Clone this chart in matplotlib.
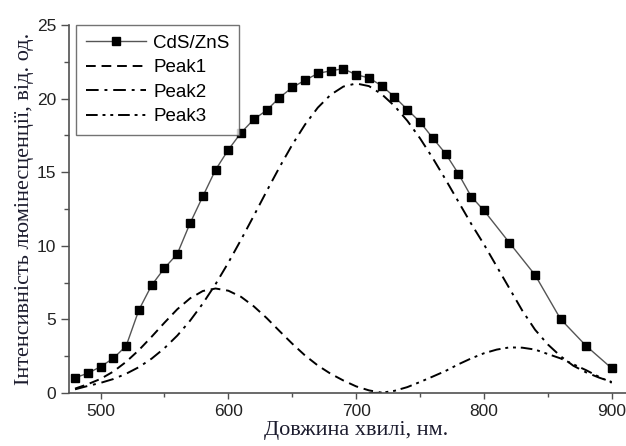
import matplotlib
matplotlib.use("Agg")
import matplotlib.pyplot as plt
from matplotlib.ticker import MultipleLocator
import numpy as np

# measured spectrum (markers)
wl_meas = [480, 490, 500, 510, 520, 530, 540, 550, 560, 570, 580, 590, 600,
           610, 620, 630, 640, 650, 660, 670, 680, 690, 700, 710, 720, 730,
           740, 750, 760, 770, 780, 790, 800, 820, 840, 860, 880, 900]
cds_zns = [1.04, 1.34, 1.79, 2.36, 3.2, 5.65, 7.33, 8.49, 9.45, 11.53, 13.36,
           15.17, 16.53, 17.69, 18.6, 19.21, 20.07, 20.76, 21.25, 21.71, 21.89,
           22.03, 21.62, 21.41, 20.87, 20.12, 19.26, 18.41, 17.32, 16.26, 14.9,
           13.35, 12.4, 10.2, 8.02, 5.02, 3.2, 1.68]

# fitted components
wl_p1 = [480, 490, 500, 510, 520, 530, 540, 550, 560, 570, 580, 590, 600,
         610, 620, 630, 640, 650, 660, 670, 680, 690, 700, 710, 720]
peak1 = [0.3, 0.6, 0.96, 1.46, 2.12, 2.92, 3.83, 4.78, 5.69, 6.43, 6.93, 7.1,
         6.95, 6.53, 5.88, 5.09, 4.21, 3.35, 2.55, 1.87, 1.31, 0.85, 0.45,
         0.18, 0.02]

wl_p2 = [480, 490, 500, 510, 520, 530, 540, 550, 560, 570, 580, 590, 600,
         610, 620, 630, 640, 650, 660, 670, 680, 690, 700, 710, 720, 730,
         740, 750, 760, 770, 780, 790, 800, 810, 820, 830, 840, 850, 860,
         870, 880, 890, 900]
peak2 = [0.25, 0.48, 0.69, 0.95, 1.31, 1.76, 2.34, 3.05, 3.9, 4.91, 6.08,
         7.4, 8.86, 10.43, 12.06, 13.72, 15.34, 16.87, 18.24, 19.39, 20.26,
         20.82, 21.03, 20.85, 20.3, 19.5, 18.5, 17.3, 15.95, 14.5, 13.0,
         11.5, 10.1, 8.6, 7.1, 5.6, 4.3, 3.3, 2.5, 1.85, 1.4, 1.05, 0.75]

wl_p3 = [710, 720, 730, 740, 750, 760, 770, 780, 790, 800, 810, 820, 830,
         840, 850, 860, 870, 880, 890, 900]
peak3 = [0.0, 0.02, 0.15, 0.4, 0.75, 1.12, 1.5, 1.95, 2.35, 2.7, 2.95, 3.1,
         3.08, 2.95, 2.65, 2.35, 1.95, 1.55, 1.1, 0.7]

axis_grey = "#505050"

fig = plt.figure(figsize=(6.26, 4.46), dpi=100)
ax = fig.add_axes([0.1107, 0.1188, 0.9165, 0.8251])

ax.plot(wl_meas, cds_zns, color="#555555", lw=1.0, marker="s", ms=6.0,
        mfc="black", mec="black", label="CdS/ZnS")
ax.plot(wl_p1, peak1, color="black", lw=1.4, dashes=(5, 3), label="Peak1")
ax.plot(wl_p2, peak2, color="black", lw=1.4, dashes=(6.5, 3, 1.5, 3),
        label="Peak2")
ax.plot(wl_p3, peak3, color="black", lw=1.4,
        dashes=(6, 2.5, 1.5, 2.5, 1.5, 2.5), label="Peak3")

ax.set_xlim(475.5, 924.5)
ax.set_ylim(0, 25)
ax.xaxis.set_major_locator(MultipleLocator(100))
ax.xaxis.set_minor_locator(MultipleLocator(50))
ax.yaxis.set_major_locator(MultipleLocator(5))
ax.yaxis.set_minor_locator(MultipleLocator(2.5))

for side in ["top", "right"]:
    ax.spines[side].set_visible(False)
for side in ["left", "bottom"]:
    ax.spines[side].set_color(axis_grey)
    ax.spines[side].set_linewidth(1.2)

ax.tick_params(axis="both", which="both", direction="out", color=axis_grey,
               width=1.0, labelsize=12.5, labelcolor="#222222",
               labelfontfamily="Liberation Sans")
ax.tick_params(axis="y", which="major", length=6)
ax.tick_params(axis="y", which="minor", length=3.5)
ax.tick_params(axis="x", which="major", length=4.5)
ax.tick_params(axis="x", which="minor", length=3)

ax.set_xlabel("Довжина хвилі, нм.", family="Liberation Serif", fontsize=16,
              color="#1c1c2e", labelpad=1)
ax.set_ylabel("Інтенсивність люмінесценції, від. од.",
              family="Liberation Serif", fontsize=16, color="#1c1c2e",
              labelpad=2)

leg = ax.legend(loc="upper left", bbox_to_anchor=(0.012, 1.0),
                prop={"family": "Liberation Sans", "size": 13.5},
                frameon=True, fancybox=False, handlelength=3.2,
                handletextpad=0.4, borderpad=0.5, labelspacing=0.4,
                borderaxespad=0.0)
leg.get_frame().set_edgecolor(axis_grey)
leg.get_frame().set_linewidth(1.0)

fig.savefig("out.png", dpi=100)
